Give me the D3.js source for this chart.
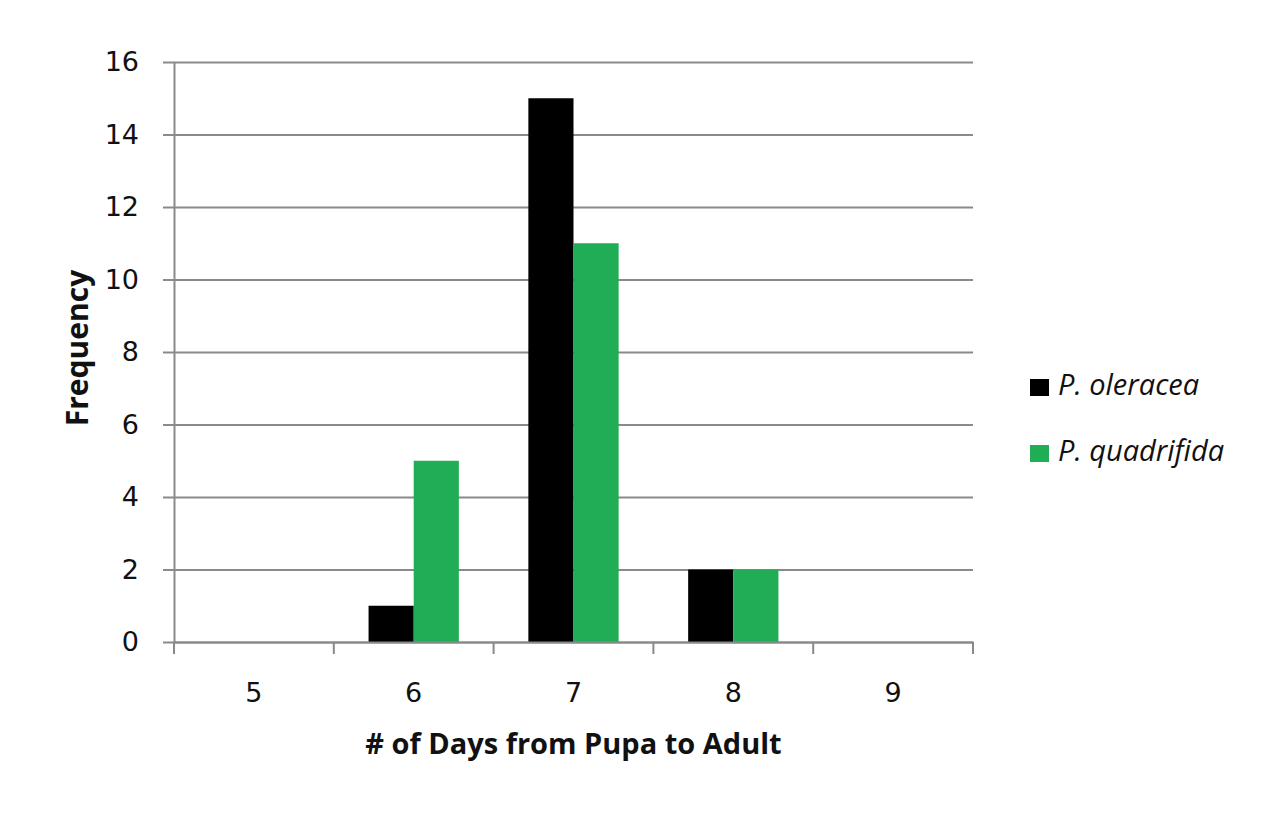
<!DOCTYPE html>
<html lang="en">
<head>
<meta charset="utf-8">
<script src="https://d3js.org/d3.v7.min.js"></script>
<style>
  body { margin: 0; background: #fff; }
</style>
</head>
<body>
<script>
  // data
  const days = ["5", "6", "7", "8", "9"];
  const series = ["P. oleracea", "P. quadrifida"];
  const oleracea = [0, 1, 15, 2, 0];
  const quadrifida = [0, 5, 11, 2, 0];
  const yTicks = [0, 2, 4, 6, 8, 10, 12, 14, 16];
  const colours = ["#000000", "#21ad55"];

  const W = 1286, H = 820;
  const margin = {top: 62, right: 313, bottom: 178, left: 174};
  const width = W - margin.left - margin.right;
  const height = H - margin.top - margin.bottom;

  const rows = days.map(function(d, i) {
    return {day: d, values: [oleracea[i], quadrifida[i]]};
  });

  const svg = d3.select("body").append("svg")
    .attr("width", W).attr("height", H);
  const g = svg.append("g")
    .attr("transform", "translate(" + margin.left + "," + margin.top + ")");

  const x0 = d3.scaleBand().domain(days).range([0, width]).padding(0);
  const x1 = d3.scaleBand().domain(series).range([0, x0.bandwidth()])
    .paddingInner(0).paddingOuter(0.77);
  const y = d3.scaleLinear().domain([0, 16]).range([height, 0]);

  // gridlines + y ticks
  const yAxis = g.append("g")
    .call(d3.axisLeft(y).tickValues(yTicks).tickSize(-width).tickPadding(35).tickSizeOuter(0));
  yAxis.select(".domain").attr("stroke", "#8a8a8a").attr("stroke-width", 2);
  yAxis.selectAll(".tick line").attr("stroke", "#8a8a8a").attr("stroke-width", 2)
    .attr("x1", -11);
  yAxis.selectAll(".tick text")
    .style("font-family", "DejaVu Sans").style("font-size", "27px").attr("fill", "#111");

  // bars
  g.append("g").selectAll("g")
    .data(rows).join("g")
    .attr("transform", function(d) { return "translate(" + x0(d.day) + ",0)"; })
    .selectAll("rect")
    .data(function(d) { return d.values.map(function(v, i) { return {s: series[i], v: v, c: colours[i]}; }); })
    .join("rect")
    .attr("x", function(d) { return x1(d.s); })
    .attr("y", function(d) { return y(d.v); })
    .attr("width", x1.bandwidth())
    .attr("height", function(d) { return height - y(d.v); })
    .attr("fill", function(d) { return d.c; });

  // x axis with category boundary ticks
  const xAxis = g.append("g")
    .attr("transform", "translate(0," + height + ")")
    .call(d3.axisBottom(x0).tickSize(0).tickPadding(41));
  xAxis.select(".domain").attr("stroke", "#8a8a8a").attr("stroke-width", 2);
  xAxis.selectAll(".tick text")
    .style("font-family", "DejaVu Sans").style("font-size", "27px").attr("fill", "#111");
  xAxis.selectAll(".bound")
    .data(days.concat(["end"])).join("line")
    .attr("class", "bound")
    .attr("x1", function(d, i) { return i * x0.step(); })
    .attr("x2", function(d, i) { return i * x0.step(); })
    .attr("y1", 0).attr("y2", 12)
    .attr("stroke", "#8a8a8a").attr("stroke-width", 2);

  // axis titles
  svg.append("text")
    .attr("x", margin.left + width / 2).attr("y", 754)
    .attr("text-anchor", "middle")
    .style("font-family", "Open Sans").style("font-weight", "bold").style("font-size", "29px")
    .attr("fill", "#111")
    .text("# of Days  from Pupa to Adult");
  svg.append("text")
    .attr("transform", "translate(88,348) rotate(-90)")
    .attr("text-anchor", "middle")
    .style("font-family", "Open Sans").style("font-weight", "bold").style("font-size", "30px")
    .attr("fill", "#111")
    .text("Frequency");

  // legend
  const legend = svg.append("g").attr("transform", "translate(1030,379)");
  const item = legend.selectAll("g").data(series).join("g")
    .attr("transform", function(d, i) { return "translate(0," + i * 66 + ")"; });
  item.append("rect").attr("width", 19).attr("height", 17)
    .attr("fill", function(d, i) { return colours[i]; });
  item.append("text").attr("x", 28).attr("y", 16)
    .style("font-family", "Open Sans").style("font-style", "italic").style("font-size", "29px")
    .attr("fill", "#111")
    .text(function(d) { return d; });
</script>
</body>
</html>
